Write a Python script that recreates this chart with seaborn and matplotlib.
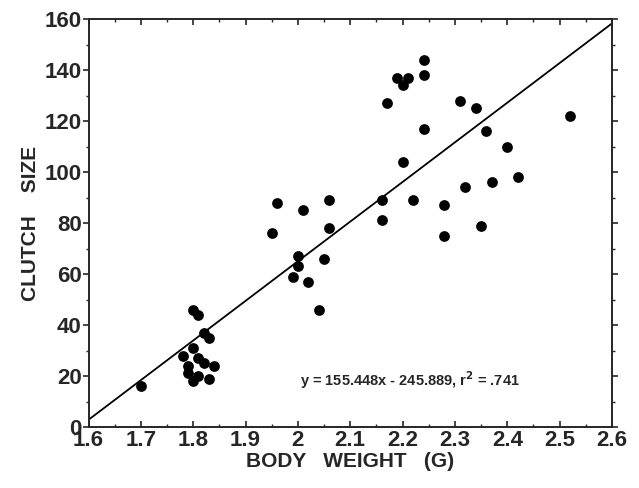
import numpy as np
import pandas as pd
import seaborn as sns
import matplotlib.pyplot as plt
from matplotlib.ticker import MultipleLocator

# body weight (g) and clutch size
weight = [1.70, 1.80, 1.81, 1.82, 1.83, 1.80, 1.78, 1.81, 1.79, 1.82, 1.84, 1.79, 1.80, 1.83, 1.81,
          1.96, 2.01, 2.06, 2.16, 2.16, 1.95, 2.06, 2.00, 2.05, 2.00, 1.99, 2.02, 2.04,
          2.24, 2.19, 2.21, 2.20, 2.24, 2.17, 2.31, 2.34, 2.24, 2.36, 2.40, 2.20,
          2.42, 2.37, 2.32, 2.22, 2.28, 2.35, 2.28, 2.52]
clutch = [16, 46, 44, 37, 35, 31, 28, 27, 24, 25, 24, 21, 18, 19, 20,
          88, 85, 89, 89, 81, 76, 78, 67, 66, 63, 59, 57, 46,
          144, 137, 137, 134, 138, 127, 128, 125, 117, 116, 110, 104,
          98, 96, 94, 89, 87, 79, 75, 122]

xticks = [1.6, 1.7, 1.8, 1.9, 2.0, 2.1, 2.2, 2.3, 2.4, 2.5, 2.6]
xticklabels = ["1.6", "1.7", "1.8", "1.9", "2", "2.1", "2.2", "2.3", "2.4", "2.5", "2.6"]

slope = 155.448
intercept = -245.889
r2 = 0.741

df = pd.DataFrame({"weight": weight, "clutch": clutch})

sns.set_style("ticks")
plt.rcParams['font.family'] = ['Liberation Sans', 'DejaVu Sans']

fig = plt.figure(figsize=(6.39, 4.88), dpi=100)
ax = fig.add_axes([0.1385, 0.125, 0.8192, 0.836])

sns.scatterplot(data=df, x="weight", y="clutch", color="black", s=60,
                edgecolor="black", linewidth=0, ax=ax, zorder=3)

xl = np.array([1.6, 2.6])
ax.plot(xl, slope * xl + intercept, color="black", lw=1.3)

ax.set_xlim(1.6, 2.6)
ax.set_ylim(0, 160)
ax.set_xticks(xticks, xticklabels)
ax.xaxis.set_minor_locator(MultipleLocator(0.05))
ax.yaxis.set_major_locator(MultipleLocator(20))
ax.yaxis.set_minor_locator(MultipleLocator(10))
ax.tick_params(axis="x", which="both", direction="in", top=True, labelsize=16, pad=2)
ax.tick_params(axis="y", which="both", direction="out", right=True, labelsize=16, pad=1)
ax.tick_params(which="major", length=4, width=1.2)
ax.tick_params(which="minor", length=2, width=1)
for t in ax.get_xticklabels() + ax.get_yticklabels():
    t.set_fontweight("bold")
for sp in ax.spines.values():
    sp.set_linewidth(1.4)

ax.set_xlabel("BODY   WEIGHT   (G)", fontsize=15, fontweight="bold", labelpad=1)
ax.set_ylabel("CLUTCH    SIZE", fontsize=15, fontweight="bold", labelpad=3)

ax.text(2.214, 18.4, "y = 155.448x - 245.889, r$^{\\mathbf{2}}$ = .741", fontsize=10.5,
        fontweight="bold", ha="center", va="center")

fig.savefig("out.png", dpi=100)
